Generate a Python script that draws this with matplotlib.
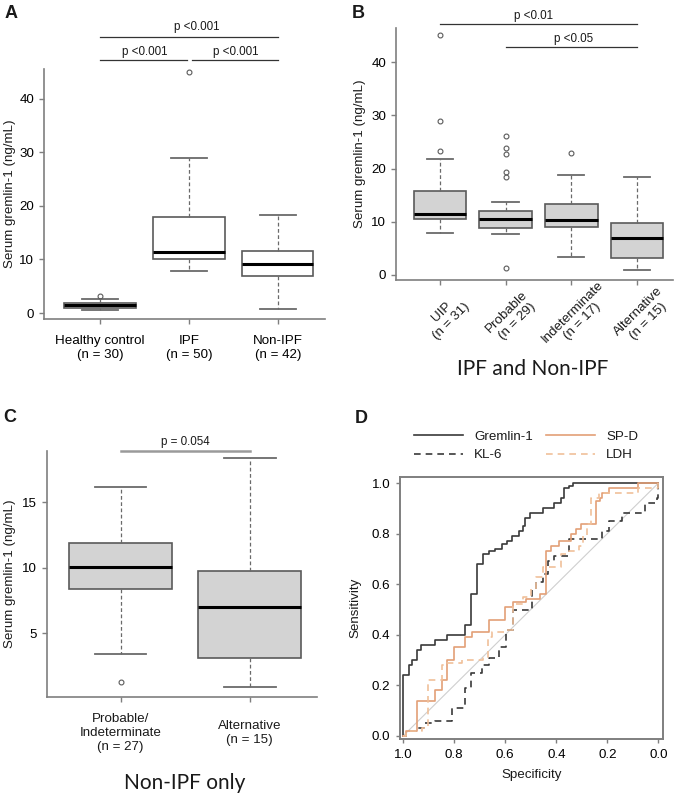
import matplotlib.pyplot as plt

plt.rcParams['font.family'] = ['Liberation Sans', 'DejaVu Sans']
plt.rcParams['font.size'] = 9.6
plt.rcParams['text.color'] = '#1a1a1a'
plt.rcParams['axes.labelcolor'] = '#1a1a1a'

# ---------------- data ----------------
# Panel A: serum gremlin-1 by group
a_labels = ["Healthy control\n(n = 30)", "IPF\n(n = 50)", "Non-IPF\n(n = 42)"]
a_q1 = [1.0, 10.0, 6.9]
a_med = [1.45, 11.4, 9.1]
a_q3 = [1.85, 17.9, 11.6]
a_lo = [0.6, 7.8, 0.8]
a_hi = [2.7, 28.9, 18.3]
a_out = [[3.2], [45.1], []]

# Panel B: by HRCT pattern
b_labels = ["UIP\n(n = 31)", "Probable\n(n = 29)", "Indeterminate\n(n = 17)", "Alternative\n(n = 15)"]
b_q1 = [10.5, 8.8, 9.0, 3.2]
b_med = [11.5, 10.5, 10.4, 7.0]
b_q3 = [15.7, 12.1, 13.25, 9.75]
b_lo = [7.8, 7.7, 3.4, 0.95]
b_hi = [21.8, 13.7, 18.7, 18.4]
b_out = [[23.3, 29.0, 45.1], [1.25, 18.4, 19.3, 22.8, 23.9, 26.2], [23.0], []]

# Panel C: Non-IPF only
c_labels = ["Probable/\nIndeterminate\n(n = 27)", "Alternative\n(n = 15)"]
c_q1 = [8.35, 3.12]
c_med = [10.05, 6.98]
c_q3 = [11.85, 9.72]
c_lo = [3.4, 0.89]
c_hi = [16.17, 18.4]
c_out = [[1.27], []]

# Panel D: ROC curves (specificity, sensitivity) step vertices
grem_spec = [1.0, 1.0, 0.976, 0.964, 0.946, 0.929, 0.874, 0.827, 0.756, 0.733, 0.711, 0.687, 0.665,
             0.640, 0.611, 0.594, 0.575, 0.546, 0.530, 0.523, 0.504, 0.452, 0.407, 0.381, 0.368,
             0.349, 0.336, 0.0]
grem_sens = [0.0, 0.24, 0.28, 0.30, 0.34, 0.36, 0.38, 0.40, 0.44, 0.56, 0.68, 0.72, 0.73,
             0.74, 0.76, 0.77, 0.79, 0.81, 0.83, 0.86, 0.88, 0.90, 0.92, 0.94, 0.98,
             0.99, 1.0, 1.0]
kl6_spec = [1.0, 0.99, 0.946, 0.917, 0.874, 0.807, 0.756, 0.734, 0.691, 0.663, 0.623, 0.598, 0.568,
            0.497, 0.478, 0.452, 0.433, 0.407, 0.349, 0.22, 0.194, 0.142, 0.052, 0.006, 0.0]
kl6_sens = [0.0, 0.02, 0.03, 0.05, 0.06, 0.11, 0.19, 0.25, 0.28, 0.31, 0.35, 0.42, 0.50,
            0.58, 0.61, 0.64, 0.69, 0.71, 0.78, 0.81, 0.85, 0.88, 0.92, 0.94, 1.0]
spd_spec = [1.0, 0.99, 0.947, 0.874, 0.849, 0.827, 0.80, 0.756, 0.73, 0.665, 0.60, 0.57, 0.52,
            0.465, 0.439, 0.42, 0.388, 0.342, 0.323, 0.304, 0.246, 0.227, 0.22, 0.194, 0.078, 0.0]
spd_sens = [0.0, 0.02, 0.14, 0.18, 0.22, 0.30, 0.35, 0.39, 0.41, 0.46, 0.51, 0.53, 0.54,
            0.56, 0.73, 0.75, 0.77, 0.80, 0.82, 0.84, 0.93, 0.94, 0.96, 0.98, 1.0, 1.0]
ldh_spec = [1.0, 0.99, 0.924, 0.904, 0.846, 0.827, 0.769, 0.685, 0.666, 0.652, 0.594, 0.569, 0.53,
            0.50, 0.478, 0.452, 0.381, 0.349, 0.31, 0.297, 0.278, 0.265, 0.233, 0.181, 0.078, 0.0]
ldh_sens = [0.0, 0.02, 0.03, 0.22, 0.28, 0.29, 0.30, 0.31, 0.39, 0.41, 0.42, 0.52, 0.55,
            0.58, 0.63, 0.67, 0.72, 0.73, 0.75, 0.79, 0.84, 0.94, 0.96, 0.96, 0.98, 1.0]
chance = [0.0, 1.0]

FS = 9.6
PFS = 8.4
GREY = '#7f7f7f'

fig = plt.figure(figsize=(6.76, 7.96), dpi=100)


def add_ax(l, t, r, b):
    return fig.add_axes([l / 676, 1 - b / 796, (r - l) / 676, (b - t) / 796])


def draw_box(ax, q1, med, q3, lo, hi, out, fill):
    stats = [dict(q1=q1[i], med=med[i], q3=q3[i], whislo=lo[i], whishi=hi[i], fliers=out[i])
             for i in range(len(med))]
    ax.bxp(stats, positions=range(1, len(stats) + 1), widths=0.8, capwidths=0.4,
           patch_artist=True,
           boxprops=dict(facecolor=fill, edgecolor='#5a5a5a', linewidth=1.2),
           medianprops=dict(color='black', linewidth=2.2),
           whiskerprops=dict(color='#6a6a6a', linestyle=(0, (3, 2)), linewidth=0.9),
           capprops=dict(color='#6a6a6a', linewidth=1.3),
           flierprops=dict(marker='o', markersize=3.5, markerfacecolor='none',
                           markeredgecolor='#5a5a5a', markeredgewidth=0.8))


def style_ax(ax, xlim, ylim, yticks, ylab_x):
    ax.set_xlim(*xlim)
    ax.set_ylim(*ylim)
    for s in ['top', 'right']:
        ax.spines[s].set_visible(False)
    for s in ['left', 'bottom']:
        ax.spines[s].set_color(GREY)
        ax.spines[s].set_linewidth(1.2)
    ax.set_yticks(yticks)
    ax.tick_params(axis='y', length=3.5, width=1, color=GREY, labelsize=FS, pad=3.5)
    ax.tick_params(axis='x', length=3.5, width=1, color=GREY, labelsize=FS, pad=8)
    ax.set_ylabel('Serum gremlin-1 (ng/mL)', fontsize=FS)
    ax.yaxis.set_label_coords(ylab_x, 0.5)


def sig(ax, x1, x2, y, text, tx, ty, color='#333333', lw=0.9):
    ax.plot([x1, x2], [y, y], color=color, lw=lw, clip_on=False)
    ax.text(tx, ty, text, ha='center', va='center', fontsize=PFS)


# ---------------- A ----------------
axA = add_ax(44, 69, 325, 319)
draw_box(axA, a_q1, a_med, a_q3, a_lo, a_hi, a_out, 'white')
style_ax(axA, (0.37, 3.53), (-1.12, 45.6), [0, 10, 20, 30, 40], -0.1)
axA.set_xticks([1, 2, 3], a_labels)
sig(axA, 1, 3, 51.6, 'p <0.001', 2.09, 53.4)
sig(axA, 1, 1.98, 47.3, 'p <0.001', 1.5, 48.8)
sig(axA, 2.03, 3, 47.3, 'p <0.001', 2.53, 48.8)

# ---------------- B ----------------
axB = add_ax(396, 28, 673, 280)
draw_box(axB, b_q1, b_med, b_q3, b_lo, b_hi, b_out, '#d3d3d3')
style_ax(axB, (0.33, 4.55), (-0.94, 46.4), [0, 10, 20, 30, 40], -0.108)
axB.set_xticks([1, 2, 3, 4], [''] * 4)
for i, lab in enumerate(b_labels):
    axB.annotate(lab, xy=(i + 1, 0), xycoords=axB.get_xaxis_transform(),
                 xytext=(4.5, -26.5), textcoords='offset points', rotation=45,
                 rotation_mode='anchor', ha='center', va='center', multialignment='center',
                 fontsize=FS, annotation_clip=False)
sig(axB, 1, 4, 47.1, 'p <0.01', 2.43, 48.6)
sig(axB, 2, 4, 42.8, 'p <0.05', 3.03, 44.4)

# ---------------- C ----------------
axC = add_ax(47, 451, 317, 697)
draw_box(axC, c_q1, c_med, c_q3, c_lo, c_hi, c_out, '#d3d3d3')
style_ax(axC, (0.43, 2.52), (0.15, 18.9), [5, 10, 15], -0.115)
axC.set_xticks([1, 2], ['', ''])
for i, lab in enumerate(c_labels):
    axC.annotate(lab, xy=(i + 1, 0), xycoords=axC.get_xaxis_transform(),
                 xytext=(0, -26), textcoords='offset points',
                 ha='center', va='center', multialignment='center',
                 fontsize=FS, annotation_clip=False)
sig(axC, 1, 2, 18.9, 'p = 0.054', 1.5, 19.55, color='#9a9a9a', lw=1.8)

# ---------------- D ----------------
axD = add_ax(400, 477, 663, 739)
axD.plot(chance[::-1], chance, color='#cfcfcf', lw=0.8)
axD.step(grem_spec, grem_sens, where='post', color='#3a3a3a', lw=1.2, label='Gremlin-1')
axD.step(kl6_spec, kl6_sens, where='post', color='#3a3a3a', lw=1.2, ls=(0, (4, 3)), label='KL-6')
axD.step(spd_spec, spd_sens, where='post', color='#e3a077', lw=1.2, label='SP-D')
axD.step(ldh_spec, ldh_sens, where='post', color='#f0c09a', lw=1.2, ls=(0, (4, 3)), label='LDH')
axD.set_xlim(1.012, -0.018)
axD.set_ylim(-0.012, 1.024)
ticksD = [0.0, 0.2, 0.4, 0.6, 0.8, 1.0]
axD.set_xticks(ticksD, ['%.1f' % t for t in ticksD])
axD.set_yticks(ticksD, ['%.1f' % t for t in ticksD])
for s in axD.spines.values():
    s.set_color(GREY)
    s.set_linewidth(1.4)
axD.tick_params(length=3, width=1, color=GREY, labelsize=FS, pad=4)
axD.set_xlabel('Specificity', fontsize=FS)
axD.set_ylabel('Sensitivity', fontsize=FS)
axD.xaxis.set_label_coords(0.5, -0.115)
axD.yaxis.set_label_coords(-0.145, 0.5)
axD.legend(ncol=2, loc='center', bbox_to_anchor=(526 / 676, 1 - 446 / 796),
           bbox_transform=fig.transFigure, frameon=False, fontsize=FS,
           handlelength=3.7, handletextpad=0.8, columnspacing=1.0, labelspacing=0.45)

# ---------------- titles and panel letters ----------------
fig.text(533 / 676, 1 - 375 / 796, 'IPF and Non-IPF', ha='center', va='baseline',
         fontsize=15, family='Lato')
fig.text(185 / 676, 1 - 789 / 796, 'Non-IPF only', ha='center', va='baseline',
         fontsize=15, family='Lato')
for letter, x, y in [('A', 5, 18), ('B', 352, 18), ('C', 3, 422), ('D', 355, 423)]:
    fig.text(x / 676, 1 - y / 796, letter, fontsize=13, fontweight='bold', va='baseline')

fig.savefig('out.png', dpi=100)
